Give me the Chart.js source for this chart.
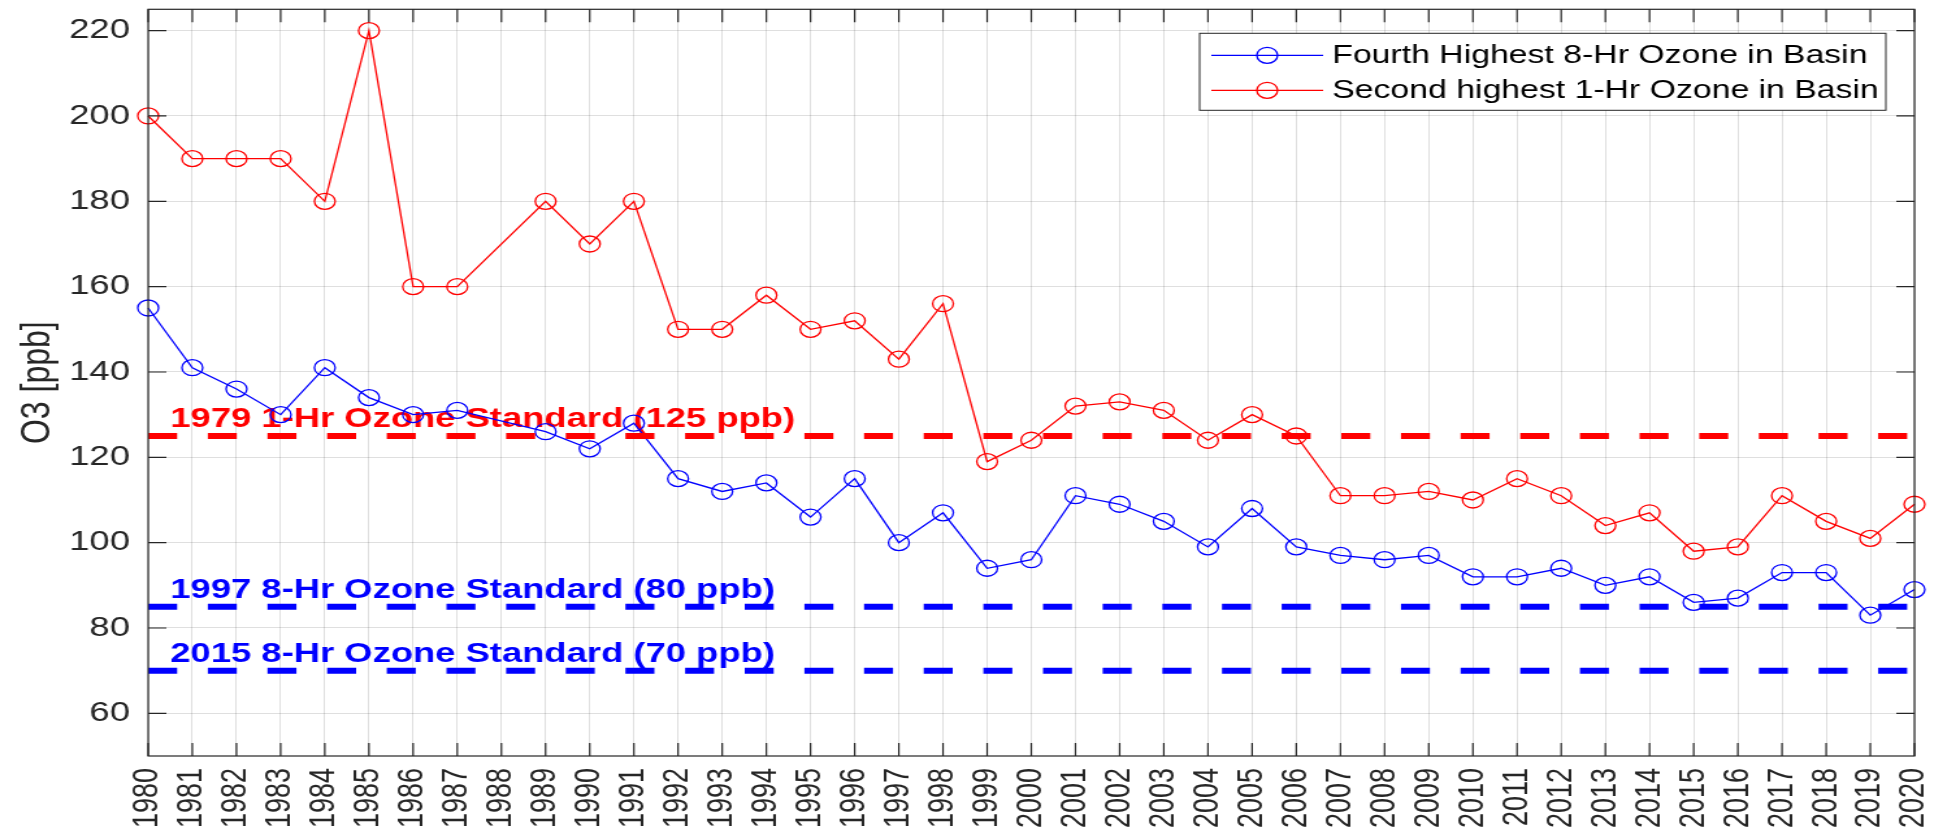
<!DOCTYPE html>
<html>
<head>
<meta charset="utf-8">
<script src="https://cdn.jsdelivr.net/npm/chart.js@4.4.1/dist/chart.umd.min.js"></script>
<style>
html, body { margin: 0; padding: 0; background: #fff; overflow: hidden; }
/* the source figure is stretched sideways, so the chart is drawn narrower and widened */
#wrap { width: 1488px; height: 835px; transform: scaleX(1.2997); transform-origin: 0 0; }
</style>
</head>
<body>
<div id="wrap"><canvas id="myChart" width="1488" height="835"></canvas></div>
<script>
var years = ['1980', '1981', '1982', '1983', '1984', '1985', '1986', '1987', '1988', '1989',
             '1990', '1991', '1992', '1993', '1994', '1995', '1996', '1997', '1998', '1999',
             '2000', '2001', '2002', '2003', '2004', '2005', '2006', '2007', '2008', '2009',
             '2010', '2011', '2012', '2013', '2014', '2015', '2016', '2017', '2018', '2019', '2020'];

// 1988 has no value in either series
var fourthHighest8Hr = [155, 141, 136, 130, 141, 134, 130, 131, null, 126,
                        122, 128, 115, 112, 114, 106, 115, 100, 107, 94,
                        96, 111, 109, 105, 99, 108, 99, 97, 96, 97,
                        92, 92, 94, 90, 92, 86, 87, 93, 93, 83, 89];
var secondHighest1Hr = [200, 190, 190, 190, 180, 220, 160, 160, null, 180,
                        170, 180, 150, 150, 158, 150, 152, 143, 156, 119,
                        124, 132, 133, 131, 124, 130, 125, 111, 111, 112,
                        110, 115, 111, 104, 107, 98, 99, 111, 105, 101, 109];

var yTicks = [60, 80, 100, 120, 140, 160, 180, 200, 220];

var standardLevels = [125, 85, 70];
var standardLabels = ['1979 1-Hr Ozone Standard (125 ppb)',
                      '1997 8-Hr Ozone Standard (80 ppb)',
                      '2015 8-Hr Ozone Standard (70 ppb)'];
var standardColors = ['#ff0000', '#0000ff', '#0000ff'];

var axisColor = '#262626';
var fontFamily = '"Liberation Sans", Arial, Helvetica, sans-serif';
Chart.defaults.font.family = fontFamily;

var seriesDatasets = [
    {
        label: 'Fourth Highest 8-Hr Ozone in Basin',
        data: fourthHighest8Hr,
        borderColor: '#0000ff'
    },
    {
        label: 'Second highest 1-Hr Ozone in Basin',
        data: secondHighest1Hr,
        borderColor: '#ff0000'
    }
].map(function (d) {
    d.backgroundColor = 'rgba(0,0,0,0)';
    d.borderWidth = 1.3;
    d.pointRadius = 8;
    d.pointBorderWidth = 1.3;
    d.pointBorderColor = d.borderColor;
    d.pointBackgroundColor = 'rgba(0,0,0,0)';
    d.spanGaps = true;
    d.tension = 0;
    d.order = 2;
    return d;
});

var standardDatasets = standardLevels.map(function (v, i) {
    return {
        label: standardLabels[i],
        data: [{x: years[0], y: v}, {x: years[years.length - 1], y: v}],
        borderColor: standardColors[i],
        borderWidth: 6,
        borderDash: [22.3, 23.6],
        borderCapStyle: 'butt',
        pointRadius: 0,
        fill: false,
        order: 1
    };
});

// MATLAB-like frame: labels of the standards, inward ticks, box and legend
var matlabLook = {
    id: 'matlabLook',
    beforeDatasetsDraw: function (chart) {
        var ctx = chart.ctx, x = chart.scales.x, y = chart.scales.y;
        ctx.save();
        ctx.font = 'bold 28px ' + fontFamily;
        ctx.textAlign = 'left';
        ctx.textBaseline = 'alphabetic';
        standardLevels.forEach(function (v, i) {
            ctx.fillStyle = standardColors[i];
            ctx.fillText(standardLabels[i], x.getPixelForValue(0.5), y.getPixelForValue(v) - 9);
        });
        ctx.restore();
    },
    afterDatasetsDraw: function (chart) {
        var ctx = chart.ctx, x = chart.scales.x, y = chart.scales.y;
        var a = chart.chartArea;
        ctx.save();
        ctx.strokeStyle = axisColor;
        ctx.lineWidth = 1.2;
        ctx.beginPath();
        years.forEach(function (yr, i) {
            var px = x.getPixelForValue(i);
            ctx.moveTo(px, a.bottom); ctx.lineTo(px, a.bottom - 13);
            ctx.moveTo(px, a.top); ctx.lineTo(px, a.top + 13);
        });
        yTicks.forEach(function (v) {
            var py = y.getPixelForValue(v);
            ctx.moveTo(a.left, py); ctx.lineTo(a.left + 14, py);
            ctx.moveTo(a.right, py); ctx.lineTo(a.right - 14, py);
        });
        ctx.stroke();
        ctx.strokeRect(a.left, a.top, a.right - a.left, a.bottom - a.top);

        // legend box
        var bx = a.right - 550, by = a.top + 24, bw = 528, bh = 77;
        ctx.fillStyle = '#ffffff';
        ctx.fillRect(bx, by, bw, bh);
        ctx.lineWidth = 1;
        ctx.strokeRect(bx, by, bw, bh);
        ctx.font = '26px ' + fontFamily;
        ctx.textBaseline = 'middle';
        ctx.textAlign = 'left';
        seriesDatasets.forEach(function (d, i) {
            var ry = by + 22 + i * 35;
            ctx.strokeStyle = d.borderColor;
            ctx.lineWidth = 1.3;
            ctx.beginPath();
            ctx.moveTo(bx + 9, ry); ctx.lineTo(bx + 95, ry);
            ctx.stroke();
            ctx.beginPath();
            ctx.arc(bx + 52, ry, 8, 0, Math.PI * 2);
            ctx.stroke();
            ctx.fillStyle = '#000000';
            ctx.fillText(d.label, bx + 102, ry + 1);
        });
        ctx.restore();
    }
};

var ctx = document.getElementById('myChart').getContext('2d');
var myChart = new Chart(ctx, {
    type: 'line',
    data: {
        labels: years,
        datasets: seriesDatasets.concat(standardDatasets)
    },
    options: {
        responsive: false,
        animation: false,
        layout: { padding: { top: 6, right: 15, left: 0, bottom: 0 } },
        plugins: {
            legend: { display: false },
            tooltip: { enabled: false }
        },
        scales: {
            x: {
                type: 'category',
                offset: false,
                grid: { color: 'rgba(38,38,38,0.15)', lineWidth: 1, drawTicks: false },
                border: { display: false },
                ticks: {
                    color: axisColor,
                    font: { size: 27 },
                    minRotation: 90,
                    maxRotation: 90,
                    autoSkip: false,
                    padding: 12
                },
                afterFit: function (s) {
                    s.height = 79;
                    s.paddingLeft = 0;
                    s.paddingRight = 0;
                }
            },
            y: {
                min: 50,
                max: 225,
                grid: { color: 'rgba(38,38,38,0.15)', lineWidth: 1, drawTicks: false },
                border: { display: false },
                ticks: { color: axisColor, font: { size: 28 }, padding: 14 },
                afterBuildTicks: function (s) {
                    s.ticks = yTicks.map(function (v) { return {value: v}; });
                },
                afterFit: function (s) {
                    s.width = 114;
                    s.paddingTop = 0;
                    s.paddingBottom = 0;
                },
                title: {
                    display: true,
                    text: 'O3 [ppb]',
                    color: axisColor,
                    font: { size: 32 },
                    padding: { top: 10, bottom: 0 }
                }
            }
        }
    },
    plugins: [matlabLook]
});
</script>
</body>
</html>
